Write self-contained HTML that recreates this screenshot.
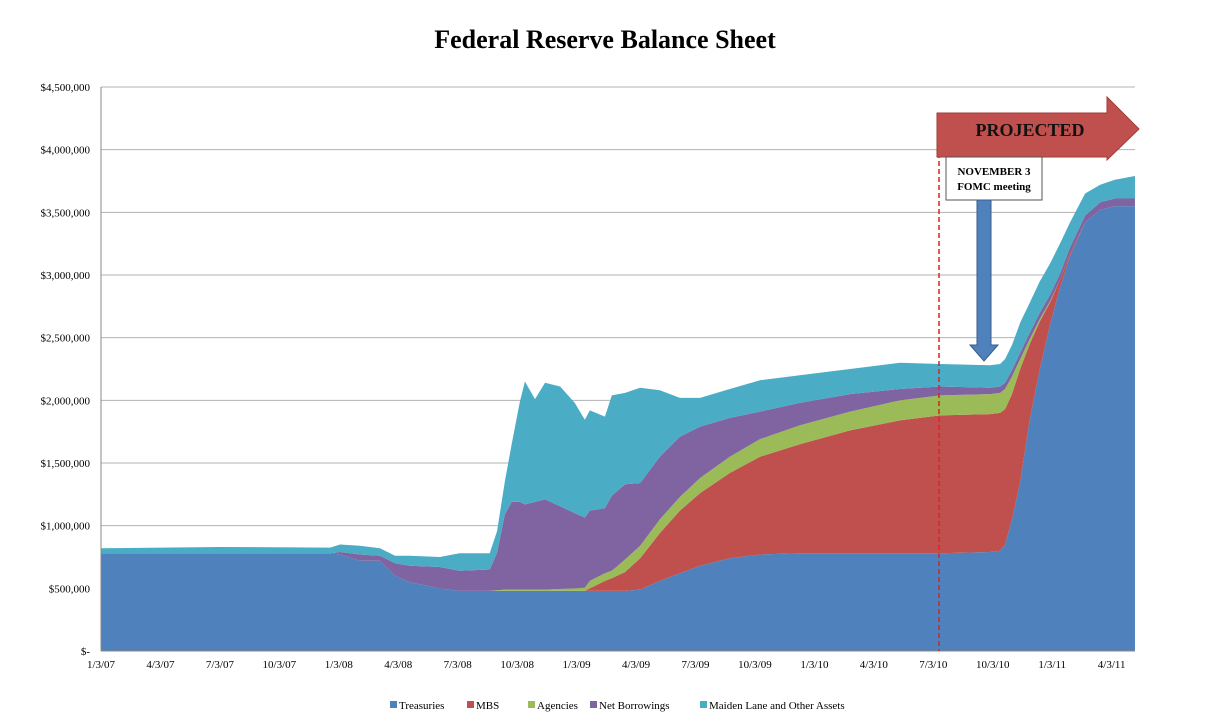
<!DOCTYPE html>
<html><head><meta charset="utf-8"><style>
body{margin:0;background:#fff;width:1223px;height:717px;overflow:hidden;font-family:"Liberation Serif",serif;}
svg text{font-family:"Liberation Serif",serif;}
</style></head><body>
<svg id="chart" width="1223" height="717" xmlns="http://www.w3.org/2000/svg" style="position:absolute;left:0;top:0">
<text x="605" y="48" text-anchor="middle" font-size="26" font-weight="bold">Federal Reserve Balance Sheet</text>
<g id="grid"></g><g id="areas"></g><g id="axes"></g><g id="legend"></g>
</svg>
<script>
// weeks since 1/3/07
const weeks=[0,26.0,50.1,52.3,56.6,61.0,64.3,67.5,74.1,78.4,85.0,86.6,88.3,89.8,91.6,92.7,94.9,97.1,100.4,103.6,105.8,106.9,110.2,111.7,114.6,117.9,122.2,126.6,131.0,137.5,144.1,152.8,163.8,174.7,183.5,194.4,196.6,197.7,199.2,201.0,203.1,205.3,207.5,209.7,211.9,215.2,218.5,221.7,226.1];
// values in $ thousands
const treasuries=[780,780,780,770,720,720,600,550,500,480,480,480,480,480,480,480,480,480,480,480,480,480,480,480,480,490,560,620,680,740,770,780,780,780,780,790,800,850,1050,1350,1850,2250,2600,2900,3150,3420,3520,3550,3550];
const mbs=[0,0,0,0,0,0,0,0,0,0,0,0,0,0,0,0,0,0,0,0,0,20,80,100,150,250,380,500,580,680,780,870,980,1060,1100,1100,1100,1080,1000,900,600,380,180,60,20,0,0,0,0];
const agencies=[0,0,0,0,0,0,0,0,0,0,0,5,10,10,10,10,10,10,15,20,25,60,60,60,100,100,110,110,120,130,140,150,150,160,160,160,160,160,140,80,40,20,10,0,0,0,0,0,0];
const netBorrowings=[0,0,0,20,50,40,100,130,170,160,170,300,600,700,700,680,700,720,660,600,560,560,520,600,600,500,500,480,410,310,220,180,140,90,70,50,50,50,50,50,50,50,50,50,50,55,60,60,60];
const maidenLane=[40,50,45,60,70,60,60,80,80,140,130,170,260,460,800,980,820,930,955,880,780,800,730,800,730,760,530,310,230,230,250,220,200,210,180,180,180,190,200,240,240,250,250,240,200,175,140,150,180];
const yTicks=[0,500000,1000000,1500000,2000000,2500000,3000000,3500000,4000000,4500000];
const yTickLabels=["$-","$500,000","$1,000,000","$1,500,000","$2,000,000","$2,500,000","$3,000,000","$3,500,000","$4,000,000","$4,500,000"];
const xTickLabels=["1/3/07","4/3/07","7/3/07","10/3/07","1/3/08","4/3/08","7/3/08","10/3/08","1/3/09","4/3/09","7/3/09","10/3/09","1/3/10","4/3/10","7/3/10","10/3/10","1/3/11","4/3/11"];
const seriesNames=["Treasuries","MBS","Agencies","Net Borrowings","Maiden Lane and Other Assets"];
const colors=["#4f81bd","#c0504d","#9bbb59","#8064a2","#4bacc6"];
const NS="http://www.w3.org/2000/svg";
const X0=101,XQ=59.45,Y0=651,YTOP=87,YMAX=4500000;
const xw=w=>X0+w*XQ/13;
const xq=q=>X0+q*XQ;
const ys=v=>Y0-(v/YMAX)*(Y0-YTOP);
function mk(tag,attrs,parent){const e=document.createElementNS(NS,tag);for(const k in attrs)e.setAttribute(k,attrs[k]);parent.appendChild(e);return e;}
const grid=document.getElementById('grid'),areas=document.getElementById('areas'),axes=document.getElementById('axes'),legend=document.getElementById('legend');
yTicks.forEach((v,i)=>{
 if(i>0){const l=mk('line',{x1:X0,x2:1135,y1:ys(v),y2:ys(v),stroke:'#b3b3b3','stroke-width':1},grid);
 
 }
 const t=mk('text',{x:90,y:ys(v)+4,'text-anchor':'end','font-size':11},axes);t.textContent=yTickLabels[i];
 
 
});
xTickLabels.forEach((s,i)=>{
 const t=mk('text',{x:xq(i),y:668,'text-anchor':'middle','font-size':11},axes);t.textContent=s;
 
 
});
const series=[treasuries,mbs,agencies,netBorrowings,maidenLane];
const n=weeks.length;
let base=new Array(n).fill(0);
series.forEach((s,si)=>{
 const top=base.map((b,i)=>b+(s[i]||0)*1000);
 let d='M'+xw(weeks[0])+','+ys(top[0]);
 for(let i=1;i<n;i++)d+='L'+xw(weeks[i])+','+ys(top[i]);
 for(let i=n-1;i>=0;i--)d+='L'+xw(weeks[i])+','+ys(base[i]);
 const p=mk('path',{d:d+'Z',fill:colors[si]},areas);
 
 
 base=top;
});
const ax=mk('line',{x1:X0,x2:1135,y1:Y0,y2:Y0,stroke:'#888'},axes);


const ay=mk('line',{x1:X0,x2:X0,y1:YTOP,y2:Y0,stroke:'#888'},axes);


const lx=[390,467,528,590,700];
seriesNames.forEach((s,i)=>{
 const r=mk('rect',{x:lx[i],y:701,width:7,height:7,fill:colors[i]},legend);
 
 
 const t=mk('text',{x:lx[i]+9,y:709,'font-size':11},legend);t.textContent=s;
 
 
});
</script>
<svg style="position:absolute;left:0;top:0" width="1223" height="717">
<line x1="939" y1="145" x2="939" y2="651" stroke="#e02020" stroke-width="1.5" stroke-dasharray="5,3"/>
<polygon points="937,113 1107,113 1107,97 1139,129 1107,160 1107,157 937,157" fill="#c0504d" stroke="#a33b38" stroke-width="1"/>
<text x="1030" y="136" text-anchor="middle" font-size="18" font-weight="bold" fill="#111" font-family="Liberation Serif, serif">PROJECTED</text>
<rect x="946" y="157" width="96" height="43" fill="#fff" stroke="#555" stroke-width="1"/>
<text x="994" y="175" text-anchor="middle" font-size="11" font-weight="bold" font-family="Liberation Serif, serif">NOVEMBER  3</text>
<text x="994" y="190" text-anchor="middle" font-size="11" font-weight="bold" font-family="Liberation Serif, serif">FOMC meeting</text>
<polygon points="977,200 991,200 991,345 998,345 984,361 970,345 977,345" fill="#4f81bd" stroke="#385d8a" stroke-width="1"/>
</svg>
</body></html>
